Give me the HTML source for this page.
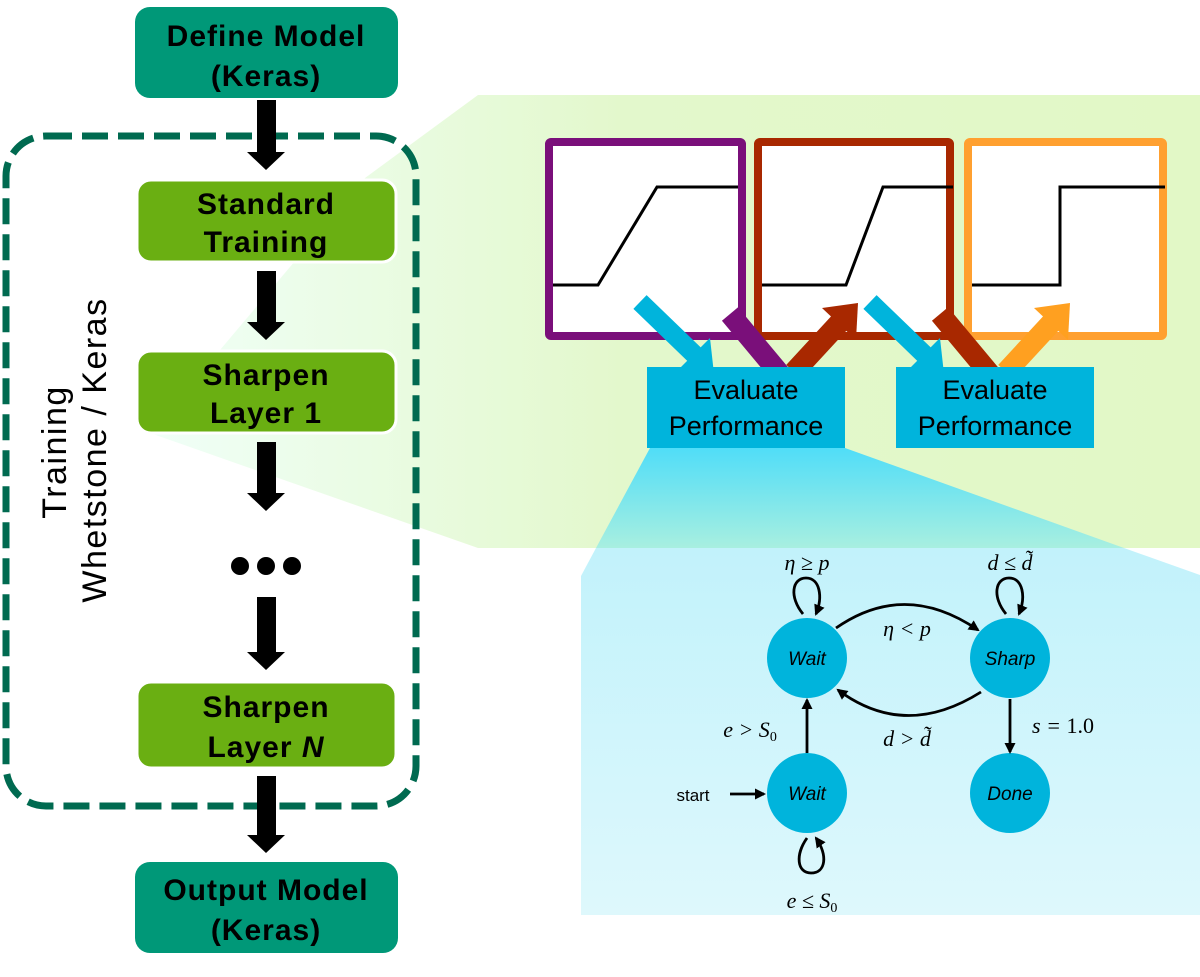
<!DOCTYPE html>
<html><head><meta charset="utf-8"><style>
html,body{margin:0;padding:0;background:#fff;}
svg{display:block;}
</style></head><body>
<svg width="1200" height="977" viewBox="0 0 1200 977" xmlns="http://www.w3.org/2000/svg">
<defs>
<linearGradient id="gg" x1="0" y1="0" x2="1" y2="0">
<stop offset="0" stop-color="#f0fff8"/><stop offset="0.45" stop-color="#e3f8cc"/><stop offset="1" stop-color="#e2f8c6"/>
</linearGradient>
<linearGradient id="cg" x1="0" y1="0" x2="0" y2="1">
<stop offset="0" stop-color="#50ddf8"/><stop offset="1" stop-color="#a8efe0"/>
</linearGradient>
<linearGradient id="cg2" x1="0" y1="0" x2="0" y2="1">
<stop offset="0" stop-color="#c2f2fb"/><stop offset="1" stop-color="#def8fc"/>
</linearGradient>
<marker id="ah" markerWidth="11" markerHeight="11" refX="9" refY="5.5" orient="auto" markerUnits="userSpaceOnUse">
<path d="M0,0 L11,5.5 L0,11 Z" fill="#000"/></marker>
</defs>

<polygon points="365,178 478,95 1200,95 1200,548 478,548 150,433" fill="url(#gg)"/>
<polygon points="650,448 845,448 1124,548 596,548" fill="url(#cg)"/>
<polygon points="596,548 1124,548 1200,575 1200,915 581,915 581,576" fill="url(#cg2)"/>

<rect x="6" y="136" width="410" height="670" rx="40" fill="none" stroke="#006a50" stroke-width="7" stroke-dasharray="26,10"/>

<g font-family="Liberation Sans,sans-serif" font-weight="bold" font-size="30" text-anchor="middle" letter-spacing="1">
<rect x="135" y="7" width="263" height="91" rx="15" fill="#009878"/>
<text x="266" y="46">Define Model</text>
<text x="266" y="86">(Keras)</text>
<rect x="137" y="180" width="259" height="82" rx="14" fill="#6aaf12" stroke="#fff" stroke-width="3"/>
<text x="266" y="214">Standard</text>
<text x="266" y="252">Training</text>
<rect x="137" y="351" width="259" height="82" rx="14" fill="#6aaf12" stroke="#fff" stroke-width="3"/>
<text x="266" y="385">Sharpen</text>
<text x="266" y="423">Layer 1</text>
<rect x="137" y="682" width="259" height="86" rx="14" fill="#6aaf12" stroke="#fff" stroke-width="3"/>
<text x="266" y="717">Sharpen</text>
<text x="266" y="757">Layer <tspan font-style="italic">N</tspan></text>
<rect x="135" y="862" width="263" height="91" rx="15" fill="#009878"/>
<text x="266" y="900">Output Model</text>
<text x="266" y="940">(Keras)</text>
</g>

<g fill="#000">
<polygon points="257,100 276,100 276,152 285,152 266,170 247,152 257,152"/>
<polygon points="257,271 276,271 276,322 285,322 266,340 247,322 257,322"/>
<polygon points="257,442 276,442 276,493 285,493 266,511 247,493 257,493"/>
<polygon points="257,597 276,597 276,652 285,652 266,670 247,652 257,652"/>
<polygon points="257,776 276,776 276,835 285,835 266,853 247,835 257,835"/>
<circle cx="240" cy="566" r="9"/><circle cx="266" cy="566" r="9"/><circle cx="292" cy="566" r="9"/>
</g>

<text transform="translate(66,452) rotate(-90)" font-family="Liberation Sans,sans-serif" font-size="34" letter-spacing="1.5" text-anchor="middle">Training</text>
<text transform="translate(106,450) rotate(-90)" font-family="Liberation Sans,sans-serif" font-size="34" letter-spacing="1.5" text-anchor="middle">Whetstone / Keras</text>

<rect x="549" y="142" width="193" height="194" fill="#fff" stroke="#7a0f7a" stroke-width="8" rx="2"/>
<rect x="758" y="142" width="192" height="194" fill="#fff" stroke="#a82800" stroke-width="8" rx="2"/>
<rect x="968" y="142" width="195" height="194" fill="#fff" stroke="#ffa030" stroke-width="8" rx="2"/>
<g fill="none" stroke="#000" stroke-width="3">
<polyline points="553,285 598,285 657,187 738,187"/>
<polyline points="762,285 846,285 883,187 953,187"/>
<polyline points="972,285 1060,285 1060,187 1165,187"/>
</g>

<g stroke-linecap="butt">
<line x1="640" y1="302" x2="698" y2="358" stroke="#00b4dc" stroke-width="19"/>
<polygon points="714,374 678,370 710,338" fill="#00b4dc"/>
<line x1="730" y1="314" x2="780" y2="374" stroke="#7a0f7a" stroke-width="21"/>
<line x1="794" y1="372" x2="842" y2="320" stroke="#a82800" stroke-width="21"/>
<polygon points="858,303 856,340 822,308" fill="#a82800"/>
<line x1="870" y1="302" x2="928" y2="358" stroke="#00b4dc" stroke-width="19"/>
<polygon points="944,374 908,370 940,338" fill="#00b4dc"/>
<line x1="940" y1="314" x2="990" y2="374" stroke="#a82800" stroke-width="21"/>
<line x1="1006" y1="372" x2="1054" y2="320" stroke="#ffa020" stroke-width="21"/>
<polygon points="1070,303 1068,340 1034,308" fill="#ffa020"/>
</g>

<g font-family="Liberation Sans,sans-serif" font-size="27" text-anchor="middle">
<rect x="647" y="367" width="198" height="81" fill="#00b4dc"/>
<text x="746" y="399">Evaluate</text>
<text x="746" y="435">Performance</text>
<rect x="896" y="367" width="198" height="81" fill="#00b4dc"/>
<text x="995" y="399">Evaluate</text>
<text x="995" y="435">Performance</text>
</g>

<!-- state machine -->
<g fill="#00b4dc">
<circle cx="807" cy="658" r="40"/>
<circle cx="1010" cy="658" r="40"/>
<circle cx="807" cy="793" r="40"/>
<circle cx="1010" cy="793" r="40"/>
</g>
<g font-family="Liberation Sans,sans-serif" font-style="italic" font-size="19" text-anchor="middle">
<text x="807" y="665">Wait</text>
<text x="1010" y="665">Sharp</text>
<text x="807" y="800">Wait</text>
<text x="1010" y="800">Done</text>
</g>
<text x="693" y="801" font-family="Liberation Sans,sans-serif" font-size="17" text-anchor="middle">start</text>
<g fill="none" stroke="#000" stroke-width="2.8">
<line x1="730" y1="794" x2="764" y2="794" marker-end="url(#ah)"/>
<line x1="807" y1="753" x2="807" y2="700" marker-end="url(#ah)"/>
<line x1="1010" y1="699" x2="1010" y2="752" marker-end="url(#ah)"/>
<path d="M836,628 Q905,580 978,630" marker-end="url(#ah)"/>
<path d="M981,692 Q905,740 838,690" marker-end="url(#ah)"/>
<path d="M803,614 C789,597 792,578 806,578 C820,578 823,597 816,614" marker-end="url(#ah)"/>
<path d="M1006,614 C992,597 995,578 1009,578 C1023,578 1026,597 1019,614" marker-end="url(#ah)"/>
<path d="M807,838 C795,855 797,873 811,873 C826,873 828,855 816,838" marker-end="url(#ah)"/>
</g>
<g font-family="Liberation Serif,DejaVu Serif,serif" font-style="italic" font-size="22" text-anchor="middle">
<text x="807" y="570">η ≥ p</text>
<text x="1010" y="570">d ≤ d̃</text>
<text x="907" y="636">η &lt; p</text>
<text x="907" y="746">d &gt; d̃</text>
<text x="1063" y="733">s = <tspan font-style="normal">1.0</tspan></text>
<text x="750" y="737">e &gt; S<tspan font-style="normal" font-size="14" dy="4">0</tspan></text>
<text x="812" y="908">e ≤ S<tspan font-style="normal" font-size="14" dy="4">0</tspan></text>
</g>
</svg>
</body></html>
